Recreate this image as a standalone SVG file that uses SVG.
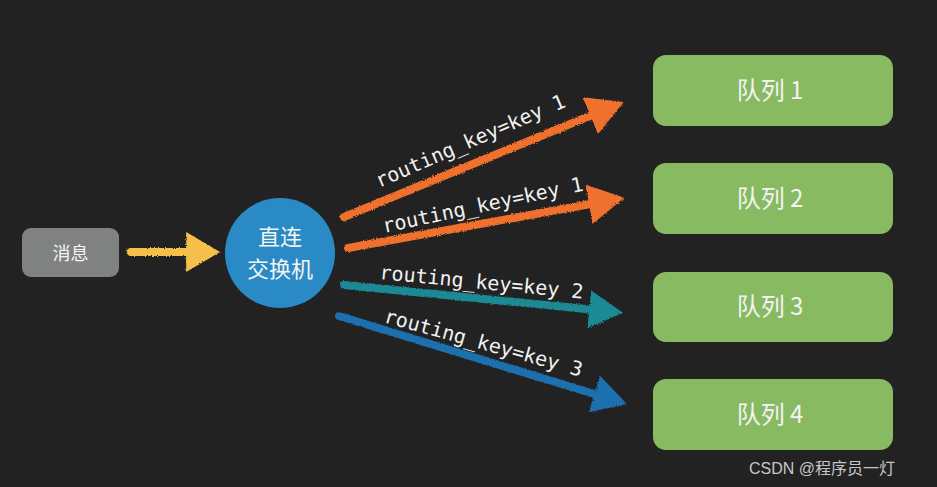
<svg xmlns="http://www.w3.org/2000/svg" width="937" height="487" viewBox="0 0 937 487">
<defs>
<style>
.cn{font-family:"Noto Sans CJK SC","Noto Sans",sans-serif;fill:#f4f4f4;text-anchor:middle}
.lbl{font-family:"DejaVu Sans Mono","Liberation Mono",monospace;font-size:20px;fill:#f2f2f2}
.q rect{fill:#88ba62}
.shaft{fill:none;stroke-width:8;stroke-linecap:round;filter:url(#chalk)}
</style>
<filter id="chalk" filterUnits="userSpaceOnUse" x="0" y="0" width="937" height="487">
<feTurbulence type="fractalNoise" baseFrequency="0.9" numOctaves="2" seed="3" result="n"/>
<feDisplacementMap in="SourceGraphic" in2="n" scale="3"/>
</filter>
<marker id="mO" viewBox="0 0 10 10" refX="2" refY="5" markerWidth="36" markerHeight="40" markerUnits="userSpaceOnUse" orient="auto" preserveAspectRatio="none"><path d="M0,0 L10,5 L0,10 Z" fill="#f0702e"/></marker>
<marker id="mY" viewBox="0 0 10 10" refX="2" refY="5" markerWidth="34" markerHeight="40" markerUnits="userSpaceOnUse" orient="auto" preserveAspectRatio="none"><path d="M0,0 L10,5 L0,10 Z" fill="#f5c04a"/></marker>
<marker id="mT" viewBox="0 0 10 10" refX="2" refY="5" markerWidth="34" markerHeight="38" markerUnits="userSpaceOnUse" orient="auto" preserveAspectRatio="none"><path d="M0,0 L10,5 L0,10 Z" fill="#1b8a95"/></marker>
<marker id="mB" viewBox="0 0 10 10" refX="2" refY="5" markerWidth="34" markerHeight="38" markerUnits="userSpaceOnUse" orient="auto" preserveAspectRatio="none"><path d="M0,0 L10,5 L0,10 Z" fill="#1f6fae"/></marker>
</defs>
<rect width="937" height="487" fill="#222222"/>
<g id="connectors">
<path class="shaft" d="M131,252 L193,252" stroke="#f5c04a" marker-end="url(#mY)"/>
<path class="shaft" d="M344,217 L597,113" stroke="#f0702e" marker-end="url(#mO)"/>
<path class="shaft" d="M348,248 L596,203" stroke="#f0702e" marker-end="url(#mO)"/>
<path class="shaft" d="M344,285 L596,310" stroke="#1b8a95" marker-end="url(#mT)"/>
<path class="shaft" d="M339,316 L601,396" stroke="#1f6fae" marker-end="url(#mB)"/>
<text class="lbl" transform="translate(379,188) rotate(-23.5)">routing_key=key 1</text>
<text class="lbl" transform="translate(384,233) rotate(-12)">routing_key=key 1</text>
<text class="lbl" transform="translate(379,279) rotate(5.5)">routing_key=key 2</text>
<text class="lbl" transform="translate(383,322) rotate(15.5)">routing_key=key 3</text>
</g>
<g id="msg"><rect x="22" y="228" width="97" height="49" rx="9" fill="#808181"/><text class="cn" x="70.5" y="260" font-size="18">消息</text></g>
<g id="exchange"><circle cx="280" cy="253" r="55" fill="#2a8ac6"/><text class="cn" x="280" y="245" font-size="22">直连</text><text class="cn" x="280" y="277" font-size="22">交换机</text></g>
<g id="q1" class="q"><rect x="653" y="55" width="240" height="71" rx="13"/><text class="cn" x="770" y="99" font-size="24">队列 1</text></g>
<g id="q2" class="q"><rect x="653" y="163" width="240" height="71" rx="13"/><text class="cn" x="770" y="207" font-size="24">队列 2</text></g>
<g id="q3" class="q"><rect x="653" y="272" width="240" height="70" rx="13"/><text class="cn" x="770" y="315" font-size="24">队列 3</text></g>
<g id="q4" class="q"><rect x="653" y="379" width="240" height="71" rx="13"/><text class="cn" x="770" y="423" font-size="24">队列 4</text></g>
<text x="749" y="474" font-family="'Liberation Sans','Noto Sans CJK SC',sans-serif" font-size="16" fill="#c8c8c8">CSDN @程序员一灯</text>
</svg>
